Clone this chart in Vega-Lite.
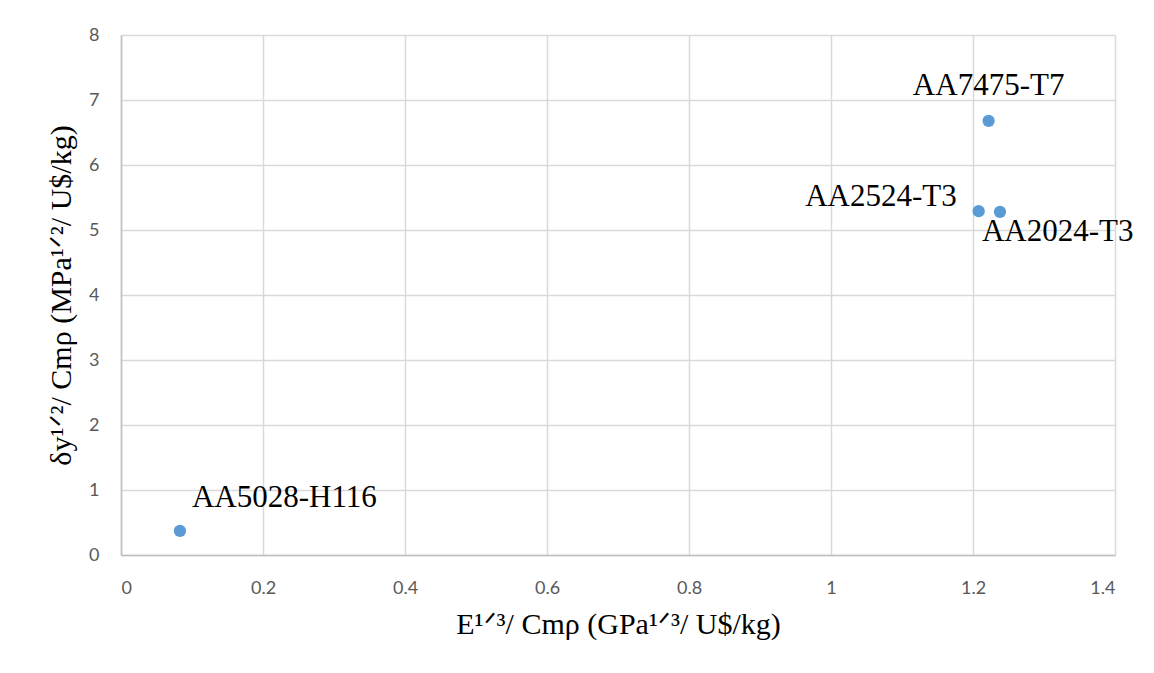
{
  "$schema": "https://vega.github.io/schema/vega-lite/v6.json",
  "width": 994,
  "height": 520,
  "autosize": {"type": "none"},
  "padding": {"left": 121, "top": 35, "right": 39, "bottom": 118},
  "background": "white",
  "config": {
    "view": {"stroke": null},
    "axis": {
      "gridColor": "#d9d9d9",
      "gridWidth": 1.5,
      "domainColor": "#bfbfbf",
      "domainWidth": 1.5,
      "ticks": false,
      "labelFont": "Lato",
      "labelFontSize": 18,
      "labelColor": "#595959",
      "titleFont": "Liberation Serif",
      "titleFontSize": 30,
      "titleFontWeight": "normal",
      "titleColor": "#000000"
    }
  },
  "data": {
    "values": [
      {"alloy": "AA5028-H116", "x": 0.083, "y": 0.37},
      {"alloy": "AA7475-T7", "x": 1.222, "y": 6.68},
      {"alloy": "AA2524-T3", "x": 1.208, "y": 5.29},
      {"alloy": "AA2024-T3", "x": 1.238, "y": 5.28}
    ]
  },
  "encoding": {
    "x": {
      "field": "x", "type": "quantitative",
      "scale": {"domain": [0, 1.4], "nice": false},
      "axis": {"values": [0, 0.2, 0.4, 0.6, 0.8, 1, 1.2, 1.4], "labelExpr": "toString(round(datum.value * 10) / 10)", "labelPadding": 24, "title": "E¹ᐟ³/ Cmρ (GPa¹ᐟ³/ U$/kg)", "titlePadding": 12}
    },
    "y": {
      "field": "y", "type": "quantitative",
      "scale": {"domain": [0, 8], "nice": false},
      "axis": {"values": [0, 1, 2, 3, 4, 5, 6, 7, 8], "labelPadding": 22, "title": "δy¹ᐟ²/ Cmρ (MPa¹ᐟ²/ U$/kg)", "titlePadding": 12}
    }
  },
  "layer": [
    {
      "mark": {"type": "point", "filled": true, "size": 150, "opacity": 1, "color": "#5b9bd5"}
    },
    {
      "transform": [{"filter": "datum.alloy === 'AA7475-T7'"}],
      "mark": {"type": "text", "font": "Liberation Serif", "fontSize": 31, "color": "#000000", "align": "center", "baseline": "middle", "dy": -35},
      "encoding": {"text": {"field": "alloy"}}
    },
    {
      "transform": [{"filter": "datum.alloy === 'AA2524-T3'"}],
      "mark": {"type": "text", "font": "Liberation Serif", "fontSize": 31, "color": "#000000", "align": "right", "baseline": "middle", "dx": -22, "dy": -14},
      "encoding": {"text": {"field": "alloy"}}
    },
    {
      "transform": [{"filter": "datum.alloy === 'AA2024-T3'"}],
      "mark": {"type": "text", "font": "Liberation Serif", "fontSize": 31, "color": "#000000", "align": "left", "baseline": "middle", "dx": -18, "dy": 20},
      "encoding": {"text": {"field": "alloy"}}
    },
    {
      "transform": [{"filter": "datum.alloy === 'AA5028-H116'"}],
      "mark": {"type": "text", "font": "Liberation Serif", "fontSize": 31, "color": "#000000", "align": "left", "baseline": "middle", "dx": 12, "dy": -33},
      "encoding": {"text": {"field": "alloy"}}
    }
  ]
}
